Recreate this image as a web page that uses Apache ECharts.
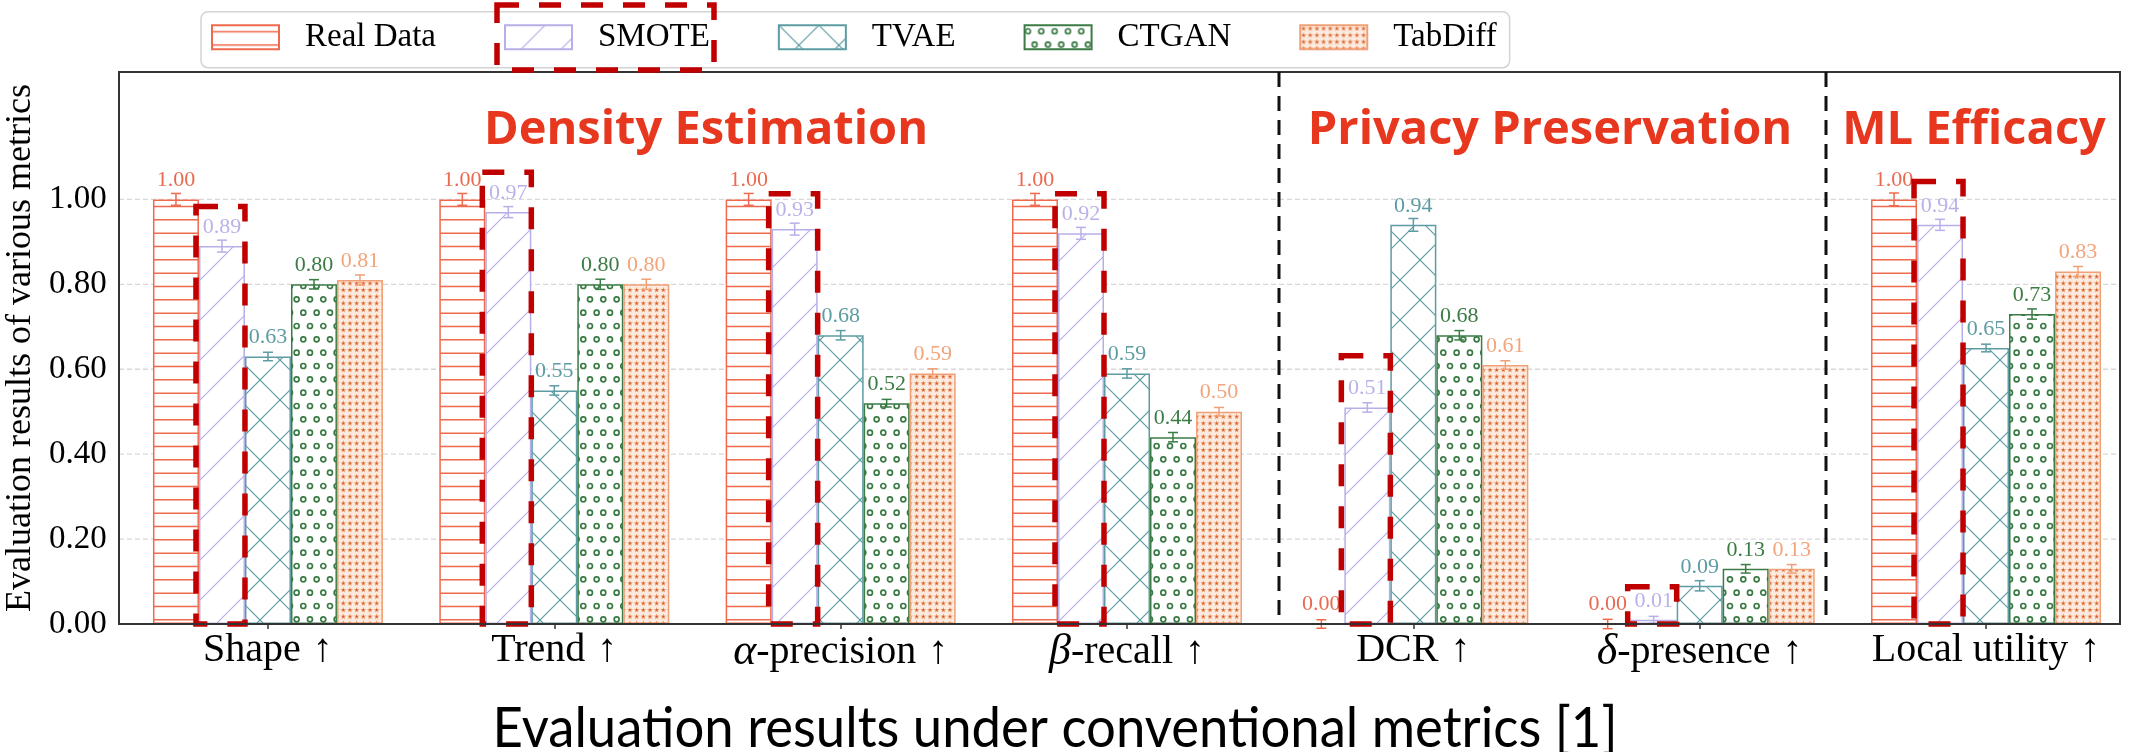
<!DOCTYPE html>
<html>
<head>
<meta charset="utf-8">
<script src="https://cdn.jsdelivr.net/npm/echarts@6/dist/echarts.min.js"></script>
<style>
  html, body { margin: 0; padding: 0; background: #fff; }
  #chart { width: 2133px; height: 752px; }
</style>
</head>
<body>
<div id="chart"></div>
<script>
// ---- data ----
const metrics = ['Shape ↑', 'Trend ↑', 'α-precision ↑', 'β-recall ↑', 'DCR ↑', 'δ-presence ↑', 'Local utility ↑'];
const models = ['Real Data', 'SMOTE', 'TVAE', 'CTGAN', 'TabDiff'];

const realData = [1.00, 1.00, 1.00, 1.00, 0.00, 0.00, 1.00];
const smote    = [0.89, 0.97, 0.93, 0.92, 0.51, 0.01, 0.94];
const tvae     = [0.63, 0.55, 0.68, 0.59, 0.94, 0.09, 0.65];
const ctgan    = [0.80, 0.80, 0.52, 0.44, 0.68, 0.13, 0.73];
const tabdiff  = [0.81, 0.80, 0.59, 0.50, 0.61, 0.13, 0.83];

// half-length of each error bar
const realErr    = [0.014, 0.014, 0.014, 0.014, 0.010, 0.011, 0.015];
const smoteErr   = [0.014, 0.013, 0.014, 0.014, 0.011, 0.008, 0.013];
const tvaeErr    = [0.010, 0.011, 0.011, 0.011, 0.015, 0.012, 0.009];
const ctganErr   = [0.011, 0.012, 0.009, 0.011, 0.011, 0.010, 0.012];
const tabdiffErr = [0.012, 0.012, 0.011, 0.010, 0.010, 0.010, 0.012];

// upper edge of the dashed highlight drawn round each SMOTE bar
const smoteBoxTop = [0.983, 1.064, 1.013, 1.013, 0.632, 0.088, 1.042];

const yTickValues = [0, 0.2, 0.4, 0.6, 0.8, 1.0];
const sectionTitles = ['Density Estimation', 'Privacy Preservation', 'ML Efficacy'];
const yTitle = 'Evaluation results of various metrics';
const xTitle = 'Evaluation results under conventional metrics [1]';

// ---- styling ----
const SERIF = '"Liberation Serif", "Times New Roman", serif';
const BAR_W = 46;
const HILITE = '#c00000';
const lineColors  = ['#ef6a4c', '#b7afe8', '#5d9ca3', '#3b7c45', '#f0a077'];
const labelColors = ['#ea6a50', '#b9b2e9', '#5d9ca3', '#3b7c45', '#f2a47c'];

function tile(w, h, draw) {
  const c = document.createElement('canvas');
  c.width = w; c.height = h;
  const g = c.getContext('2d');
  g.fillStyle = '#fff';
  g.fillRect(0, 0, w, h);
  draw(g);
  return { image: c, repeat: 'repeat' };
}
function seg(g, x1, y1, x2, y2) { g.beginPath(); g.moveTo(x1, y1); g.lineTo(x2, y2); g.stroke(); }

const patterns = [
  // horizontal hatch
  tile(40, 40, g => {
    g.strokeStyle = lineColors[0]; g.lineWidth = 1.5;
    [6.5, 19.83, 33.17].forEach(y => seg(g, 0, y, 40, y));
  }),
  // forward diagonal hatch
  tile(40, 40, g => {
    g.strokeStyle = lineColors[1]; g.lineWidth = 1.2;
    [0, 40, 80].forEach(c => seg(g, c - 50, 50, c + 10, -10));
  }),
  // cross hatch
  tile(40, 40, g => {
    g.strokeStyle = lineColors[2]; g.lineWidth = 1.2;
    [0, 40, 80].forEach(c => seg(g, c - 50, 50, c + 10, -10));
    [-40, 0, 40].forEach(c => seg(g, c - 10, -10, c + 50, 50));
  }),
  // small rings, staggered rows
  tile(80, 80, g => {
    g.strokeStyle = '#3a7a44'; g.lineWidth = 1.7;
    const s = 80 / 6;
    for (let r = 0; r < 6; r++) {
      for (let c = -1; c < 7; c++) {
        const x = c * s + (r % 2) * s / 2 + 3.3, y = r * s + 6;
        g.beginPath(); g.arc(x, y, 2.5, 0, Math.PI * 2); g.stroke();
      }
    }
  }),
  // dense tiny stars
  tile(20, 20, g => {
    const s = 20 / 3;
    g.fillStyle = '#fcebe0';
    g.fillRect(0, 0, 20, 20);
    for (let r = 0; r < 3; r++) for (let c = 0; c < 3; c++) {
      const cx = c * s + s / 2, cy = r * s + s / 2;
      g.beginPath();
      for (let i = 0; i < 10; i++) {
        const a = -Math.PI / 2 + i * Math.PI / 5, rad = i % 2 ? 1.3 : 3.1;
        g.lineTo(cx + rad * Math.cos(a), cy + rad * Math.sin(a));
      }
      g.closePath();
      g.fillStyle = '#ee9866'; g.fill();
      g.fillStyle = '#cf5a30';
      g.beginPath(); g.arc(cx, cy, 0.9, 0, Math.PI * 2); g.fill();
    }
  })
];

const seriesValues = [realData, smote, tvae, ctgan, tabdiff];
const seriesErrors = [realErr, smoteErr, tvaeErr, ctganErr, tabdiffErr];

const barSeries = models.map((name, k) => ({
  type: 'bar',
  name,
  data: seriesValues[k],
  barWidth: BAR_W,
  barGap: '0%',
  z: 2,
  itemStyle: { color: patterns[k], borderColor: lineColors[k], borderWidth: 1.5 },
  label: {
    show: true, position: 'top', distance: 8,
    formatter: p => Number(p.value).toFixed(2),
    color: labelColors[k], fontFamily: SERIF, fontSize: 22
  },
  emphasis: { disabled: true },
  animation: false
}));

const errorSeries = models.map((name, k) => ({
  type: 'custom',
  z: 3,
  silent: true,
  animation: false,
  data: seriesValues[k].map((v, i) => [i, v, seriesErrors[k][i]]),
  renderItem(params, api) {
    const i = api.value(0), v = api.value(1), e = api.value(2);
    const dx = (k - 2) * BAR_W;
    const hi = api.coord([i, v + e]);
    const lo = api.coord([i, v - e]);
    const x = hi[0] + dx;
    const st = { stroke: lineColors[k], lineWidth: 1.5 };
    return {
      type: 'group',
      children: [
        { type: 'line', shape: { x1: x, y1: hi[1], x2: x, y2: lo[1] }, style: st },
        { type: 'line', shape: { x1: x - 5, y1: hi[1], x2: x + 5, y2: hi[1] }, style: st },
        { type: 'line', shape: { x1: x - 5, y1: lo[1], x2: x + 5, y2: lo[1] }, style: st }
      ]
    };
  }
}));

const highlightSeries = {
  type: 'custom',
  z: 6,
  silent: true,
  animation: false,
  data: smoteBoxTop.map((t, i) => [i, t]),
  renderItem(params, api) {
    const top = api.coord([api.value(0), api.value(1)]);
    const base = api.coord([api.value(0), 0]);
    // SMOTE is the second of five adjacent bars
    const left = top[0] - 1.5 * BAR_W - 3;
    const right = top[0] - 0.5 * BAR_W;
    return {
      type: 'rect',
      shape: { x: left, y: top[1], width: right - left, height: base[1] - top[1] },
      style: { fill: 'none', stroke: HILITE, lineWidth: 5.5, lineDash: [22, 20] }
    };
  }
};

const chart = echarts.init(document.getElementById('chart'), null, { renderer: 'canvas' });

chart.setOption({
  animation: false,
  backgroundColor: '#fff',
  grid: { left: 124.8, right: 3.8, top: 72, bottom: 128, containLabel: false, outerBoundsMode: 'none' },
  legend: {
    data: models,
    left: 201, top: 11.7,
    orient: 'horizontal',
    icon: 'rect',
    itemWidth: 67, itemHeight: 24, itemGap: 68,
    padding: [9, 13, 14, 10],
    backgroundColor: '#fff',
    borderColor: '#d4d4d4', borderWidth: 1.5, borderRadius: 7,
    selectedMode: false,
    textStyle: { fontFamily: SERIF, fontSize: 33, color: '#000', padding: [0, 0, 0, 21] }
  },
  xAxis: {
    type: 'category',
    data: metrics,
    axisLine: { show: false },
    axisTick: { show: true, alignWithLabel: true, length: 5, lineStyle: { color: '#333', width: 1.5 } },
    axisLabel: {
      interval: 0,
      margin: 6,
      fontFamily: SERIF, fontSize: 40, color: '#000',
      formatter: v => {
        const m = v.match(/^([αβδ]?)(.*?)\s*↑$/);
        return (m[1] ? '{g|' + m[1] + '}' : '') + m[2] + '{a|↑}';
      },
      rich: {
        g: { fontFamily: SERIF, fontStyle: 'italic', fontSize: 44, color: '#000' },
        a: { fontFamily: SERIF, fontSize: 40, color: '#000', padding: [0, 0, 0, 12] }
      }
    }
  },
  yAxis: {
    type: 'value',
    min: 0, max: 1.3, interval: 0.2,
    axisLine: { show: false },
    axisTick: { show: false },
    splitLine: { show: false },
    axisLabel: {
      margin: 18, fontFamily: SERIF, fontSize: 33, color: '#000',
      formatter: v => yTickValues.some(t => Math.abs(t - v) < 1e-6) ? v.toFixed(2) : ''
    },
    name: yTitle,
    nameLocation: 'middle',
    nameGap: 80,
    nameTextStyle: { fontFamily: SERIF, fontSize: 36, color: '#000' }
  },
  series: [...barSeries, ...errorSeries, highlightSeries]
});

// ---- frame, gridlines, separators and titles ----
const FRAME = { left: 119, right: 2120 };
const yPix = v => chart.convertToPixel({ yAxisIndex: 0 }, v);
const yTop = yPix(1.3), yBase = yPix(0);

const gridLines = yTickValues.filter(v => v > 0).map(v => ({
  type: 'line', z: 0, silent: true,
  shape: { x1: FRAME.left, y1: yPix(v), x2: FRAME.right, y2: yPix(v) },
  style: { stroke: '#d8d8d8', lineWidth: 1.3, lineDash: [5, 3] }
}));

const separators = [1279, 1826].map(x => ({
  type: 'line', z: 50, silent: true,
  shape: { x1: x, y1: yTop, x2: x, y2: yBase },
  style: { stroke: '#111', lineWidth: 3, lineDash: [15, 9] }
}));

const titleX = [706, 1550, 1974];
const sectionTexts = sectionTitles.map((t, i) => ({
  type: 'text', z: 50, silent: true,
  x: titleX[i], y: 131,
  style: {
    text: t, fill: '#e8371f',
    font: 'bold 47px "Open Sans", "Liberation Sans", sans-serif',
    align: 'center', verticalAlign: 'middle'
  }
}));

// condensed look of the axis title: stretch the text to its measured span
const meas = document.createElement('canvas').getContext('2d');
meas.font = '56px Lato';
const xTitleScale = 1125 / meas.measureText(xTitle).width;

chart.setOption({
  graphic: [
    ...gridLines,
    {
      type: 'rect', z: 50, silent: true,
      shape: { x: FRAME.left, y: yTop, width: FRAME.right - FRAME.left, height: yBase - yTop },
      style: { fill: 'none', stroke: '#333', lineWidth: 2 }
    },
    ...separators,
    ...sectionTexts,
    {
      type: 'text', z: 50, silent: true,
      x: 1055, y: 729, scaleX: xTitleScale,
      style: { text: xTitle, fill: '#000', font: '56px Lato, "Open Sans", sans-serif', align: 'center', verticalAlign: 'middle' }
    },
    {
      // highlight round the SMOTE legend entry
      type: 'rect', z: 60, silent: true,
      shape: { x: 497, y: 5, width: 217, height: 65 },
      style: { fill: 'none', stroke: HILITE, lineWidth: 5.5, lineDash: [22, 20] }
    }
  ]
});
</script>
</body>
</html>
